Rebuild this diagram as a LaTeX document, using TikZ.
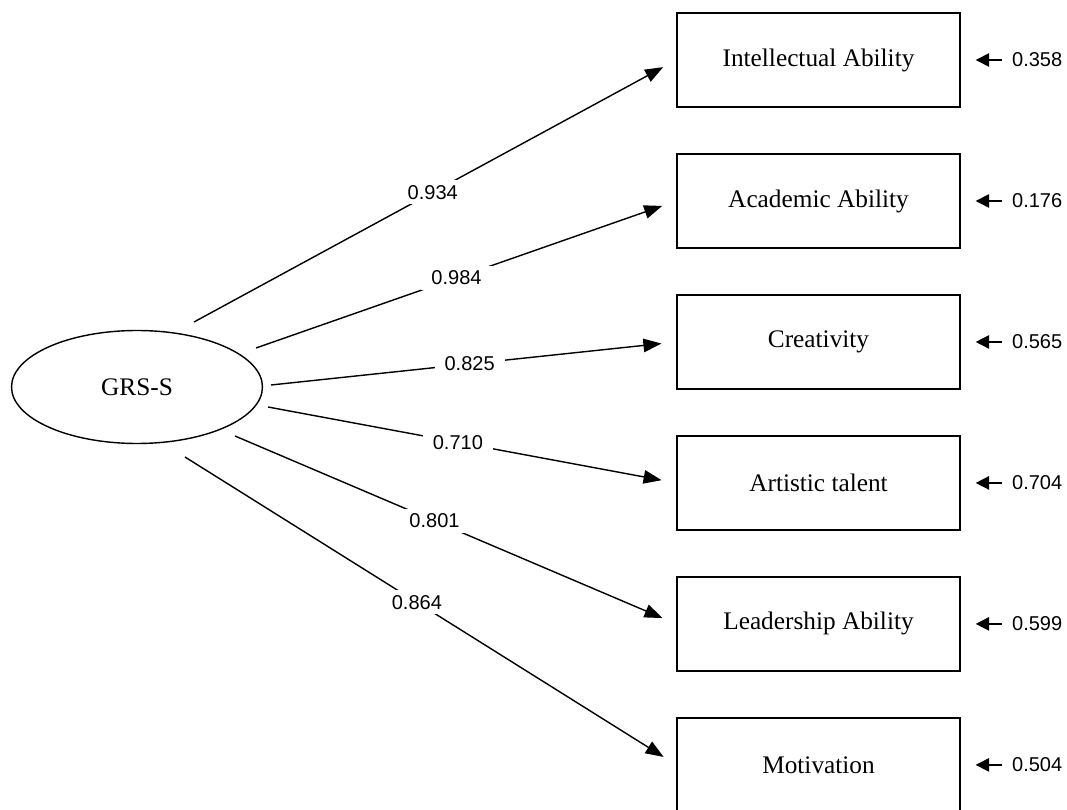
\documentclass[tikz,border=0pt]{standalone}
\usepackage{fontspec}
\setmainfont{Liberation Serif}
\setsansfont{Liberation Sans}
\usetikzlibrary{shapes, arrows.meta, positioning}

\begin{document}
\begin{tikzpicture}[x=0.02cm, y=-0.02cm, >={Triangle[length=0.36cm, width=0.27cm]}, line width=0.8pt, node distance=0.912cm]
        \tikzstyle{measure}=[rectangle, draw, minimum width=5.66cm, minimum height=1.88cm, font=\fontsize{14.4}{17}\selectfont]
        \tikzstyle{loading}=[fill=white, inner xsep=0.2cm, inner ysep=0.1cm, font=\sffamily\fontsize{11.4}{13}\selectfont]
        \tikzstyle{resid}=[inner sep=1pt, font=\sffamily\fontsize{11.4}{13}\selectfont]
        \tikzstyle{residarrow}=[->, >={Triangle[length=0.27cm, width=0.27cm]}, shorten <=0.16cm, shorten >=0.3cm]
        \useasboundingbox (0,0) rectangle (1067,810);
        \node[ellipse, draw, minimum width=5.02cm, minimum height=2.26cm, font=\fontsize{14.4}{17}\selectfont] (grs) at (137,387) {GRS-S};
        \node[measure] (ia) at (818.5,60) {Intellectual Ability};
        \node[measure] (aa)[below=of ia] {Academic Ability};
        \node[measure] (cr)[below=of aa] {Creativity};
        \node[measure] (at)[below=of cr] {Artistic talent};
        \node[measure] (la)[below=of at] {Leadership Ability};
        \node[measure] (mo)[below=of la] {Motivation};
        \node[resid] (e1)[right=0.98cm of ia] {0.358};
        \node[resid] (e2)[right=0.98cm of aa] {0.176};
        \node[resid] (e3)[right=0.98cm of cr] {0.565};
        \node[resid] (e4)[right=0.98cm of at] {0.704};
        \node[resid] (e5)[right=0.98cm of la] {0.599};
        \node[resid] (e6)[right=0.98cm of mo] {0.504};
        \coordinate (s1) at (194,322);
        \coordinate (s2) at (256,348);
        \coordinate (s3) at (271,385);
        \coordinate (s4) at (268,407);
        \coordinate (s5) at (235,436);
        \coordinate (s6) at (185,457);
        \path[->, shorten >=0.3cm]
        (s1) edge node[loading, pos=0.495]{0.934} (ia.west)
        (s2) edge node[loading, pos=0.477]{0.984} (aa.west)
        (s3) edge node[loading, pos=0.49]{0.825} (cr.west)
        (s4) edge node[loading, pos=0.465]{0.710} (at.west)
        (s5) edge node[loading, pos=0.452]{0.801} (la.west)
        (s6) edge node[loading, pos=0.472]{0.864} (mo.west);
        \draw[residarrow] (e1.west) -- (ia.east);
        \draw[residarrow] (e2.west) -- (aa.east);
        \draw[residarrow] (e3.west) -- (cr.east);
        \draw[residarrow] (e4.west) -- (at.east);
        \draw[residarrow] (e5.west) -- (la.east);
        \draw[residarrow] (e6.west) -- (mo.east);
\end{tikzpicture}
\end{document}
